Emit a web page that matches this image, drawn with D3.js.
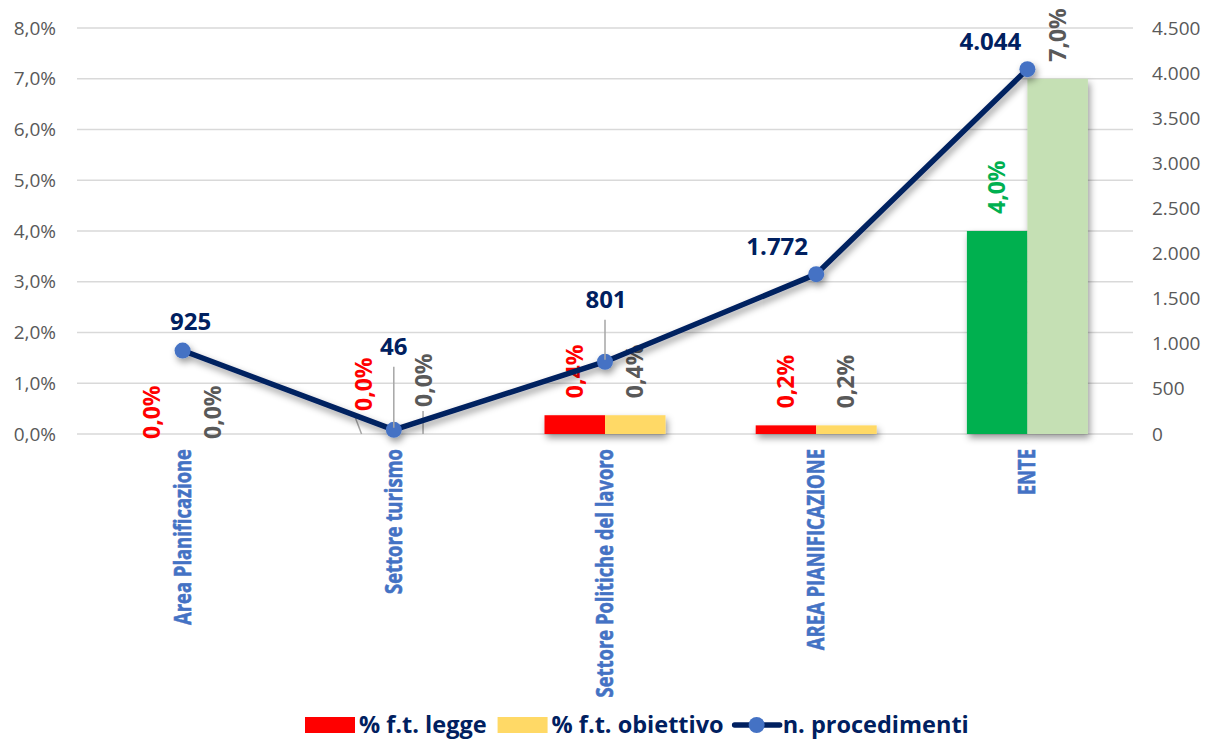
<!DOCTYPE html>
<html lang="it">
<head>
<meta charset="UTF-8">
<title>Procedimenti</title>
<script src="https://d3js.org/d3.v7.min.js"></script>
<style>
  body { margin: 0; background: #fff; }
  svg { display: block; }
</style>
</head>
<body>
<div id="chart"></div>
<script>
// data
var categories = ["Area Planificazione", "Settore turismo", "Settore Politiche del lavoro", "AREA PIANIFICAZIONE", "ENTE"];
var ftLegge = [0, 0, 0.37, 0.17, 4.0];
var ftObiettivo = [0, 0, 0.37, 0.17, 7.0];
var procedimenti = [925, 46, 801, 1772, 4044];
var leftTicks = [0, 1, 2, 3, 4, 5, 6, 7, 8];
var rightTicks = [0, 500, 1000, 1500, 2000, 2500, 3000, 3500, 4000, 4500];

var W = 1217, H = 744;
var it = d3.formatLocale({decimal: ",", thousands: ".", grouping: [3], currency: ["€", ""]});
var fmtPct = function(v) { return it.format(".1f")(v) + "%"; };
var fmtNum = it.format(",d");

var svg = d3.select("#chart").append("svg").attr("width", W).attr("height", H);

var defs = svg.append("defs");
defs.append("filter").attr("id", "shadow").attr("x", "-20%").attr("y", "-20%").attr("width", "140%").attr("height", "140%")
  .append("feDropShadow").attr("dx", 2).attr("dy", 4).attr("stdDeviation", 3.5)
  .attr("flood-color", "#000").attr("flood-opacity", 0.4);

var x = d3.scaleBand().domain(categories).range([77, 1133]);
var yL = d3.scaleLinear().domain([0, 8]).range([434, 28]);
var yR = d3.scaleLinear().domain([0, 4500]).range([434, 28]);
var barW = 60.5;
var groupOff = (x.bandwidth() - 2 * barW) / 2;

// gridlines
svg.append("g").selectAll("line").data(leftTicks).enter().append("line")
  .attr("x1", 77).attr("x2", 1133)
  .attr("y1", function(d) { return yL(d); }).attr("y2", function(d) { return yL(d); })
  .attr("stroke", "#d9d9d9").attr("stroke-width", 1.5);

// left axis
var axL = svg.append("g").attr("transform", "translate(56,0)")
  .call(d3.axisLeft(yL).tickValues(leftTicks).tickFormat(fmtPct).tickSize(0).tickPadding(0));
axL.select(".domain").remove();
axL.selectAll("text").attr("fill", "#595959").style("font-family", "'Open Sans', sans-serif").style("font-size", "19px");

// right axis
var axR = svg.append("g").attr("transform", "translate(1152,0)")
  .call(d3.axisRight(yR).tickValues(rightTicks).tickFormat(fmtNum).tickSize(0).tickPadding(0));
axR.select(".domain").remove();
axR.selectAll("text").attr("fill", "#595959").style("font-family", "'Open Sans', sans-serif").style("font-size", "19px");

// category labels (condensed bold look)
svg.append("g").selectAll("text").data(categories).enter().append("text")
  .attr("transform", function(d) { return "translate(" + (x(d) + x.bandwidth() / 2 + 8) + ",449) rotate(-90) scale(0.8,1)"; })
  .attr("text-anchor", "end")
  .attr("fill", "#4472c4")
  .attr("stroke", "#4472c4").attr("stroke-width", 0.6)
  .style("font-family", "'Open Sans', sans-serif")
  .style("font-weight", "bold").style("font-size", "23px")
  .text(function(d) { return d; });

// bars
var leggeColor = function(i) { return i === 4 ? "#00b050" : "#ff0000"; };
var obiettivoColor = function(i) { return i === 4 ? "#c5e0b4" : "#ffd966"; };

var barG = svg.append("g").attr("filter", "url(#shadow)");
barG.selectAll(".legge").data(ftLegge).enter().append("rect")
  .attr("x", function(d, i) { return x(categories[i]) + groupOff; })
  .attr("y", function(d) { return yL(d); })
  .attr("width", barW)
  .attr("height", function(d) { return yL(0) - yL(d); })
  .attr("fill", function(d, i) { return leggeColor(i); });
barG.selectAll(".obiettivo").data(ftObiettivo).enter().append("rect")
  .attr("x", function(d, i) { return x(categories[i]) + groupOff + barW; })
  .attr("y", function(d) { return yL(d); })
  .attr("width", barW)
  .attr("height", function(d) { return yL(0) - yL(d); })
  .attr("fill", function(d, i) { return obiettivoColor(i); });

// bar labels (rotated)
var pctFont = "'Open Sans', sans-serif";
function barLabels(values, off, colorFn, shifts) {
  svg.append("g").selectAll("text").data(values).enter().append("text")
    .attr("transform", function(d, i) {
      var cx = x(categories[i]) + groupOff + off + barW / 2 + 8;
      var sy = d > 0 ? yL(d) - 17 : yL(0) + 5;
      sy += (shifts[i] || 0);
      return "translate(" + cx + "," + sy + ") rotate(-90)";
    })
    .attr("fill", function(d, i) { return colorFn(i); })
    .style("font-family", pctFont).style("font-weight", "bold").style("font-size", "23px")
    .text(function(d) { return fmtPct(d); });
}
barLabels(ftLegge, 0, function(i) { return i === 4 ? "#00b050" : "#ff0000"; }, {1: -28});
barLabels(ftObiettivo, barW, function() { return "#595959"; }, {1: -32});

// leader lines for moved labels (Settore turismo)
var tx = x(categories[1]);
var leaders = svg.append("g").attr("stroke", "#a6a6a6").attr("stroke-width", 1.5);
leaders.append("line").attr("x1", tx + groupOff + barW / 2 - 10).attr("y1", 413).attr("x2", tx + groupOff + barW / 2 - 2).attr("y2", yL(0));
leaders.append("line").attr("x1", tx + groupOff + barW * 1.5 - 1).attr("y1", 411).attr("x2", tx + groupOff + barW * 1.5 - 1).attr("y2", yL(0));

// line series
var cxOf = function(i) { return x(categories[i]) + x.bandwidth() / 2; };
var line = d3.line().x(function(d, i) { return cxOf(i); }).y(function(d) { return yR(d); });
var lineG = svg.append("g").attr("filter", "url(#shadow)");
lineG.append("path").datum(procedimenti).attr("d", line)
  .attr("fill", "none").attr("stroke", "#002060").attr("stroke-width", 5.5)
  .attr("stroke-linejoin", "round");
lineG.selectAll("circle").data(procedimenti).enter().append("circle")
  .attr("cx", function(d, i) { return cxOf(i); })
  .attr("cy", function(d) { return yR(d); })
  .attr("r", 8).attr("fill", "#4472c4");

// line value labels
var lblOff = [[8, -21], [0, -75], [1, -54], [-39, -19], [-37, -19]];
var leaderIdx = [1, 2];
leaderIdx.forEach(function(i) {
  svg.append("line")
    .attr("x1", cxOf(i)).attr("x2", cxOf(i))
    .attr("y1", yR(procedimenti[i]) + lblOff[i][1] + 12).attr("y2", yR(procedimenti[i]) - 2)
    .attr("stroke", "#a6a6a6").attr("stroke-width", 1.5);
});
svg.append("g").selectAll("text").data(procedimenti).enter().append("text")
  .attr("x", function(d, i) { return cxOf(i) + lblOff[i][0]; })
  .attr("y", function(d, i) { return yR(d) + lblOff[i][1]; })
  .attr("text-anchor", "middle")
  .attr("fill", "#002060")
  .style("font-family", "'Open Sans', sans-serif").style("font-weight", "bold").style("font-size", "24px")
  .text(function(d) { return fmtNum(d); });

// legend
var legendItems = [
  {label: "% f.t. legge", type: "rect", color: "#ff0000"},
  {label: "% f.t. obiettivo", type: "rect", color: "#ffd966"},
  {label: "n. procedimenti", type: "line", color: "#002060"}
];
var lg = svg.append("g").attr("transform", "translate(305,725)");
var lx = 0;
legendItems.forEach(function(it) {
  if (it.type === "rect") {
    lg.append("rect").attr("x", lx).attr("y", -8).attr("width", 50).attr("height", 16).attr("fill", it.color);
    lx += 54;
  } else {
    lg.append("line").attr("x1", lx).attr("x2", lx + 45).attr("y1", 0).attr("y2", 0)
      .attr("stroke", it.color).attr("stroke-width", 5.5).attr("stroke-linecap", "round");
    lg.append("circle").attr("cx", lx + 22).attr("cy", 0).attr("r", 8).attr("fill", "#4472c4");
    lx += 48;
  }
  var t = lg.append("text").attr("x", lx).attr("y", 8)
    .attr("fill", "#002060")
    .style("font-family", "'Open Sans', sans-serif").style("font-weight", "bold").style("font-size", "23.5px")
    .text(it.label);
  lx += t.node().getComputedTextLength() + 11;
});
</script>
</body>
</html>
